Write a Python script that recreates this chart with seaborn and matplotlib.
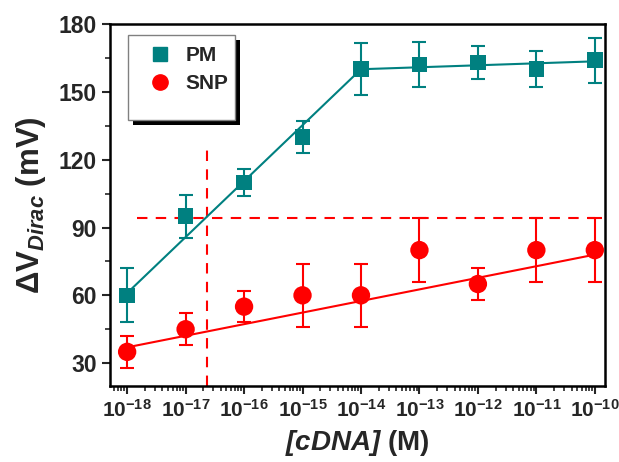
import numpy as np
import pandas as pd
import matplotlib
matplotlib.use('Agg')
import matplotlib.pyplot as plt
import seaborn as sns
from matplotlib.ticker import LogLocator, MultipleLocator, FixedLocator, NullFormatter
from matplotlib.patches import Rectangle

# data
conc = [1e-18, 1e-17, 1e-16, 1e-15, 1e-14, 1e-13, 1e-12, 1e-11, 1e-10]
pm_vals = [60, 95, 110, 130, 160, 162, 163, 160, 164]
pm_err = [12, 9.5, 6, 7, 11.5, 10, 7.5, 8, 10]
snp_vals = [35, 45, 55, 60, 60, 80, 65, 80, 80]
snp_err = [7, 7, 7, 14, 14, 14, 7, 14, 14]

# fitted lines (piecewise for PM, linear for SNP)
pm_fit_x = [1e-18, 1e-14, 1e-10]
pm_fit_y = [61, 160, 163.5]
snp_fit_x = [1e-18, 1e-10]
snp_fit_y = [37, 78]

# detection-limit guide lines
lod_y = 94
lod_x = 2.3e-17
lod_h_x = [1.5e-18, 1e-10]
lod_v_y = [20, 125]

xtick_vals = conc
xtick_labels = [r'$10^{%d}$' % e for e in range(-18, -9)]
ytick_vals = [30, 60, 90, 120, 150, 180]

teal = '#008080'
red = '#ff0000'

sns.set_style('ticks')
plt.rcParams['font.family'] = ['Liberation Sans', 'DejaVu Sans']
plt.rcParams['font.weight'] = 'bold'
plt.rcParams['mathtext.fontset'] = 'custom'
plt.rcParams['mathtext.rm'] = 'Liberation Sans:bold'
plt.rcParams['mathtext.bf'] = 'Liberation Sans:bold'
plt.rcParams['mathtext.it'] = 'Liberation Sans:italic:bold'
plt.rcParams['mathtext.bfit'] = 'Liberation Sans:italic:bold'
plt.rcParams['mathtext.default'] = 'bf'

df = pd.DataFrame({'conc': conc * 2,
                   'val': pm_vals + snp_vals,
                   'err': pm_err + snp_err,
                   'probe': ['PM'] * len(conc) + ['SNP'] * len(conc)})

fig = plt.figure(figsize=(6.19, 4.62), dpi=100)
ax = fig.add_axes([0.178, 0.165, 0.799, 0.783])

# guide lines
ax.plot(lod_h_x, [lod_y, lod_y], color=red, lw=1.5, ls=(0, (5, 4)), zorder=1)
ax.plot([lod_x, lod_x], lod_v_y, color=red, lw=1.5, ls=(0, (5, 4)), zorder=1)

# fits
sns.lineplot(x=pm_fit_x, y=pm_fit_y, color=teal, lw=1.5, ax=ax, zorder=2)
sns.lineplot(x=snp_fit_x, y=snp_fit_y, color=red, lw=1.5, ax=ax, zorder=2)

# error bars
for probe, col in [('PM', teal), ('SNP', red)]:
    d = df[df['probe'] == probe]
    ax.errorbar(d['conc'], d['val'], yerr=d['err'], fmt='none', ecolor=col,
                elinewidth=1.5, capsize=5, capthick=1.5, zorder=3)

sns.scatterplot(data=df, x='conc', y='val', hue='probe', style='probe',
                markers={'PM': 's', 'SNP': 'o'},
                palette={'PM': teal, 'SNP': red},
                size='probe', sizes={'PM': 125, 'SNP': 175},
                edgecolor='none', linewidth=0, ax=ax, zorder=4, legend=False)

ax.set_xscale('log')
ax.set_xlim(10 ** -18.29, 10 ** -9.83)
ax.set_ylim(20, 180)
ax.xaxis.set_major_locator(FixedLocator(xtick_vals))
ax.set_xticklabels(xtick_labels)
ax.xaxis.set_minor_locator(LogLocator(base=10, subs=np.arange(2, 10), numticks=30))
ax.xaxis.set_minor_formatter(NullFormatter())
ax.set_yticks(ytick_vals)
ax.yaxis.set_minor_locator(MultipleLocator(15))

for s in ax.spines.values():
    s.set_linewidth(1.8)
    s.set_color('black')
ax.tick_params(axis='both', which='major', direction='out', length=6, width=1.5,
               labelsize=16.5, top=False, right=False)
ax.tick_params(axis='x', which='major', labelsize=15)
ax.tick_params(axis='both', which='minor', direction='out', length=3.5, width=1.2,
               top=False, right=False)
for lab in ax.get_yticklabels():
    lab.set_fontweight('bold')

ax.set_xlabel(r'$\mathbfit{[cDNA]}$ (M)', fontsize=20, fontweight='bold', labelpad=5)
ax.set_ylabel(r'ΔV$_{\mathbfit{Dirac}}$ (mV)', fontsize=22.5, fontweight='bold', labelpad=8)

# legend box with hard shadow
ax.add_patch(Rectangle((0.0464, 0.721), 0.216, 0.235, transform=ax.transAxes,
                       facecolor='black', edgecolor='none', zorder=5))
ax.add_patch(Rectangle((0.0364, 0.735), 0.216, 0.235, transform=ax.transAxes,
                       facecolor='white', edgecolor='#808080', lw=1, zorder=6))
handles = [plt.Line2D([], [], ls='none', marker='s', ms=10, color=teal, label='PM'),
           plt.Line2D([], [], ls='none', marker='o', ms=11, color=red, label='SNP')]
leg = ax.legend(handles=handles, loc='upper left', bbox_to_anchor=(0.035, 0.985),
                frameon=False, fontsize=15, handletextpad=0.5, labelspacing=0.45,
                borderpad=0.3, handlelength=1.5)
leg.set_zorder(7)

fig.savefig('out.png', dpi=100)
